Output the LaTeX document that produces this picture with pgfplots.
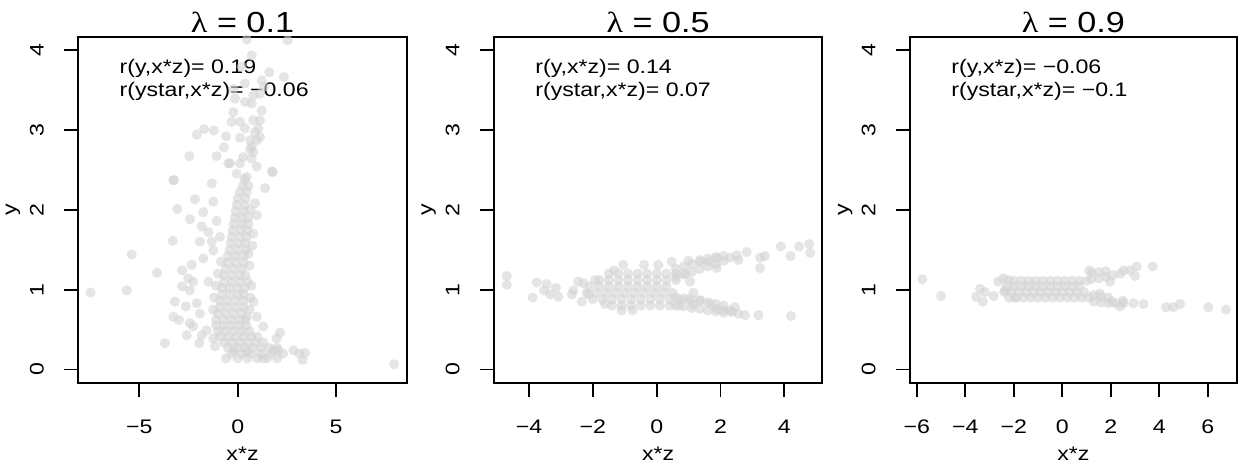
\documentclass[border=0pt]{standalone}
\usepackage{fontspec}
\setmainfont{Liberation Sans}[FakeStretch=1.18]
\newfontfamily\lamfont{Liberation Serif}[FakeStretch=1.18]
\usepackage{pgfplots}
\pgfplotsset{compat=1.18}
\definecolor{ptgray}{HTML}{D3D3D3}

\pgfplotsset{
  rpanel/.style={
    scale only axis, height=173bp,
    ymin=-0.165, ymax=4.165,
    ytick={0,1,2,3,4}, yticklabels={0,1,2,3,4},
    axis line style={line width=0.9bp},
    tick align=outside, major tick length=7bp,
    every tick/.style={black, line width=0.9bp},
    tick pos=left,
    every tick label/.append style={font=\fontsize{9.8bp}{12bp}\selectfont},
    yticklabel style={rotate=90, anchor=base},
    xticklabel style={anchor=base},
    xticklabel shift=18.6bp, yticklabel shift=10.3bp,
    xlabel={x*z}, ylabel={y},
    label style={font=\fontsize{9.8bp}{12bp}\selectfont},
    xlabel style={at={(axis description cs:0.5,0)}, anchor=base, yshift=-38.65bp},
    ylabel style={at={(axis description cs:-0.189,0.5)}, anchor=base},
    every axis title/.style={at={(axis description cs:0.5,1)}, anchor=base,
      yshift=2.35bp, font=\fontsize{14.5bp}{17bp}\selectfont},
    axis on top,
  },
}
\tikzset{
  note/.style={anchor=base west, inner sep=0pt, font=\fontsize{9.8bp}{12bp}\selectfont},
}

\begin{document}
\begin{tikzpicture}
\useasboundingbox (0,0) rectangle (620.5bp,-232bp);

% lambda = 0.1
\begin{axis}[rpanel, at={(39.15bp,-191.35bp)}, anchor=south west, width=164.2bp,
  xmin=-8.10, xmax=8.59, xtick={-5,0,5}, xticklabels={−5,0,5},
  title={{\lamfont λ} = 0.1}]
\addplot[only marks, mark=*, mark size=2.55bp, mark options={draw=ptgray, draw opacity=0, fill=ptgray, fill opacity=0.6}] coordinates {
(-7.48,0.965) (-5.64,0.99) (-5.39,1.44) (-4.10,1.21) (-3.70,0.33) (7.95,0.065)
(-3.24,2.37) (-2.46,2.67) (-2.08,2.94) (-1.71,3.01) (-1.21,2.99) (-1.07,2.67)
(-0.70,2.78) (-0.59,2.92) (-3.07,2.01) (-3.30,1.61) (-2.17,2.13) (-2.43,1.88)
(-1.83,1.79) (-2.82,1.24) (-2.51,1.14) (-2.26,1.10) (-3.19,0.85) (-2.63,0.79)
(-3.27,0.66) (-2.98,0.62) (-2.59,0.43) (-1.95,0.33) (-2.26,0.54) (-1.58,0.49)
(-1.24,0.39) (-0.59,0.14) (-0.22,0.24) (1.30,0.14) (2.15,0.46) (1.81,0.24)
(2.83,0.24) (3.13,0.20) (3.42,0.21) (3.30,0.12) (2.07,0.24) (1.98,0.39)
(1.30,0.54) (0.97,0.66) (0.46,0.66) (0.46,0.22) (-1.15,0.29) (-1.83,0.43)
(-2.43,0.58) (-1.92,0.70) (-2.08,0.83) (-2.43,0.99) (-2.82,1.04) (-3.27,2.37)
(-1.32,2.33) (-0.48,2.58) (-1.24,2.10) (-1.75,1.97) (-1.07,1.86) (-1.49,1.72)
(-1.92,1.60) (-1.32,1.60) (-0.90,1.66) (-2.34,1.31) (-1.75,1.39) (-1.24,1.49)
(-1.49,1.10) (1.39,2.27) (1.78,2.47) (0.88,2.08) (0.79,1.70) (0.97,1.93)
(0.46,4.13) (2.54,4.12) (0.71,3.93) (0.20,3.79) (1.61,3.72) (2.35,3.66)
(1.22,3.62) (1.34,3.54) (0.37,3.58) (-0.22,3.51) (-0.14,3.39) (0.79,3.43)
(1.13,3.45) (0.37,3.35) (0.71,3.33) (-0.22,3.22) (1.22,3.24) (-0.31,3.10)
(0.12,3.10) (0.79,3.12) (1.13,3.12) (1.05,3.02) (0.37,3.02) (0.88,2.97)
(1.13,2.91) (0.63,2.76) (0.79,2.72) (0.71,2.64) (0.12,2.58) (0.97,2.54)
(-0.39,2.58) (0.28,2.66) (1.74,2.48) (-0.05,2.45) (0.46,2.41) (0.12,2.90)
(0.63,2.87) (0.97,2.87) (0.71,2.79)
(0.0,0.14) (0.5,0.14) (1.0,0.14) (1.5,0.14) (2.0,0.14)
(-0.3,0.20) (0.2,0.20) (0.7,0.20) (1.2,0.20) (1.7,0.20) (2.3,0.20)
(-0.5,0.27) (0.0,0.27) (0.4,0.27) (0.8,0.27) (1.2,0.27) (1.6,0.27) (2.0,0.27)
(-0.7,0.34) (-0.3,0.34) (0.1,0.34) (0.5,0.34) (0.9,0.34) (1.3,0.34)
(-0.9,0.41) (-0.5,0.41) (-0.1,0.41) (0.3,0.41) (0.7,0.41) (1.0,0.41)
(-1.0,0.48) (-0.6,0.48) (-0.2,0.48) (0.2,0.48) (0.6,0.48)
(-1.1,0.55) (-0.7,0.55) (-0.3,0.55) (0.1,0.55) (0.45,0.55)
(-1.1,0.62) (-0.7,0.62) (-0.3,0.62) (0.1,0.62) (0.4,0.62)
(-1.0,0.70) (-0.6,0.70) (-0.2,0.70) (0.2,0.70)
(-0.9,0.78) (-0.5,0.78) (-0.1,0.78) (0.3,0.78)
(-0.9,0.86) (-0.5,0.86) (-0.1,0.86) (0.3,0.86)
(-0.8,0.94) (-0.4,0.94) (0.0,0.94) (0.3,0.94)
(-0.8,1.02) (-0.4,1.02) (0.0,1.02) (0.35,1.02)
(-0.7,1.10) (-0.3,1.10) (0.1,1.10)
(-0.7,1.18) (-0.3,1.18) (0.1,1.18) (0.4,1.18)
(-0.6,1.26) (-0.2,1.26) (0.2,1.26)
(-0.5,1.34) (-0.1,1.34) (0.3,1.34)
(-0.5,1.42) (-0.1,1.42) (0.3,1.42)
(-0.4,1.50) (0.0,1.50) (0.4,1.50)
(-0.35,1.58) (0.05,1.58) (0.4,1.58)
(-0.3,1.66) (0.1,1.66) (0.45,1.66)
(-0.25,1.74) (0.15,1.74) (0.5,1.74)
(-0.2,1.82) (0.2,1.82) (0.55,1.82)
(-0.15,1.90) (0.2,1.90) (0.55,1.90)
(-0.1,1.98) (0.3,1.98) (-0.05,2.06) (0.35,2.06) (0.0,2.14) (0.4,2.14)
(0.1,2.22) (0.45,2.22) (0.25,2.30) (0.55,2.30) (0.35,2.38)
(0.7,1.05) (0.8,0.85) (0.6,1.30) (0.75,1.55) (0.65,2.00)
(-1.25,0.75) (-1.2,0.90) (-1.1,1.05) (-1.0,1.20) (0.6,0.75) (0.65,0.90)
(0.5,1.10) (-0.85,1.35) (0.55,1.45)
};
\node[note, xshift=20.5bp, yshift=-18.3bp] at (rel axis cs:0,1) {r(y,x*z)= 0.19};
\node[note, xshift=20.5bp, yshift=-30bp] at (rel axis cs:0,1) {r(ystar,x*z)= −0.06};
\end{axis}

% lambda = 0.5
\begin{axis}[rpanel, at={(247bp,-191.35bp)}, anchor=south west, width=164.15bp,
  xmin=-5.10, xmax=5.19, xtick={-4,-2,0,2,4}, xticklabels={−4,−2,0,2,4},
  title={{\lamfont λ} = 0.5}]
\addplot[only marks, mark=*, mark size=2.55bp, mark options={draw=ptgray, draw opacity=0, fill=ptgray, fill opacity=0.6}] coordinates {
(-4.70,1.17) (-4.70,1.06) (-3.89,0.90) (-3.76,1.09) (-3.45,1.07) (-3.53,0.99)
(-3.34,0.94) (-3.16,1.02) (-3.08,0.91) (-2.66,0.94) (-2.46,1.10) (-2.35,0.85)
(-2.30,1.08) (-2.61,0.99) (-2.14,0.94) (-1.93,1.12) (-1.05,1.31) (-1.34,1.24)
(-1.10,0.74) (-0.76,0.74) (-1.62,0.82) (-0.40,1.31) (0.05,1.31) (0.47,1.35)
(0.99,1.36) (1.36,1.37) (1.62,1.35) (1.88,1.39) (2.09,1.42) (2.51,1.43)
(2.56,1.37) (2.82,1.47) (1.88,1.27) (3.24,1.40) (3.39,1.42) (3.24,1.27)
(3.89,1.54) (4.20,1.42) (4.46,1.54) (4.78,1.57) (4.81,1.46) (1.15,0.96)
(1.36,0.87) (1.67,0.83) (1.88,0.76) (2.09,0.74) (2.30,0.74) (2.45,0.78)
(2.56,0.70) (2.77,0.68) (3.19,0.68) (4.21,0.67) (1.04,1.10) (1.15,0.81)
(-1.4,0.80) (-1.1,0.80) (-0.8,0.80) (-0.5,0.80) (-0.2,0.80) (0.1,0.80) (0.4,0.80) (0.7,0.80)
(-2.0,0.88) (-1.7,0.88) (-1.4,0.88) (-1.1,0.88) (-0.8,0.88) (-0.5,0.88) (-0.2,0.88) (0.1,0.88) (0.4,0.88) (0.7,0.88) (1.0,0.88)
(-2.2,0.96) (-1.9,0.96) (-1.6,0.96) (-1.3,0.96) (-1.0,0.96) (-0.7,0.96) (-0.4,0.96) (-0.1,0.96) (0.2,0.96) (0.5,0.96)
(-2.1,1.04) (-1.8,1.04) (-1.5,1.04) (-1.2,1.04) (-0.9,1.04) (-0.6,1.04) (-0.3,1.04) (0.0,1.04) (0.3,1.04)
(-1.8,1.12) (-1.5,1.12) (-1.2,1.12) (-0.9,1.12) (-0.6,1.12) (-0.3,1.12) (0.0,1.12) (0.3,1.12) (0.6,1.12)
(-1.5,1.20) (-1.2,1.20) (-0.9,1.20) (-0.6,1.20) (-0.3,1.20) (0.0,1.20) (0.3,1.20) (0.6,1.20) (0.9,1.20)
(0.6,1.16) (0.6,1.26) (0.85,1.19) (0.85,1.29) (1.1,1.22) (1.1,1.32) (1.35,1.26) (1.35,1.35)
(1.6,1.29) (1.6,1.39) (1.85,1.32) (1.85,1.41) (2.1,1.36) (2.3,1.40)
(0.6,0.80) (0.6,0.90) (0.85,0.79) (0.85,0.89) (1.1,0.77) (1.1,0.87) (1.35,0.76) (1.35,0.86)
(1.6,0.74) (1.6,0.84) (1.85,0.73) (1.85,0.82) (2.1,0.71) (2.1,0.80) (2.35,0.72)
};
\node[note, xshift=20.5bp, yshift=-18.3bp] at (rel axis cs:0,1) {r(y,x*z)= 0.14};
\node[note, xshift=20.5bp, yshift=-30bp] at (rel axis cs:0,1) {r(ystar,x*z)= 0.07};
\end{axis}

% lambda = 0.9
\begin{axis}[rpanel, at={(455bp,-191.35bp)}, anchor=south west, width=163.35bp,
  xmin=-6.28, xmax=7.19, xtick={-6,-4,-2,0,2,4,6}, xticklabels={−6,−4,−2,0,2,4,6},
  title={{\lamfont λ} = 0.9}]
\addplot[only marks, mark=*, mark size=2.55bp, mark options={draw=ptgray, draw opacity=0, fill=ptgray, fill opacity=0.6}] coordinates {
(-5.77,1.13) (-5.00,0.92) (-3.56,0.91) (-3.39,1.01) (-3.28,0.85) (-3.19,0.97)
(-2.84,0.92) (-2.64,1.10) (-2.43,1.14) (-2.23,1.12) (-2.36,0.99) (-1.95,0.90)
(3.07,1.29) (3.73,1.29) (3.00,1.17) (2.79,1.24) (2.52,1.24) (1.11,1.24)
(3.34,0.82) (2.93,0.83) (2.52,0.83) (2.38,0.79) (2.04,0.85) (4.28,0.78)
(4.58,0.78) (4.85,0.82) (6.02,0.78) (6.75,0.75) (1.55,0.95) (1.97,1.10)
(-2.2,0.90) (-1.9,0.90) (-1.6,0.90) (-1.3,0.90) (-1.0,0.90) (-0.7,0.90) (-0.4,0.90) (-0.1,0.90) (0.2,0.90) (0.5,0.90) (0.8,0.90) (1.1,0.90)
(-2.4,0.97) (-2.1,0.97) (-1.8,0.97) (-1.5,0.97) (-1.2,0.97) (-0.9,0.97) (-0.6,0.97) (-0.3,0.97) (0.0,0.97) (0.3,0.97) (0.6,0.97) (0.9,0.97)
(-2.3,1.04) (-2.0,1.04) (-1.7,1.04) (-1.4,1.04) (-1.1,1.04) (-0.8,1.04) (-0.5,1.04) (-0.2,1.04) (0.1,1.04) (0.4,1.04) (0.7,1.04)
(-2.0,1.11) (-1.7,1.11) (-1.4,1.11) (-1.1,1.11) (-0.8,1.11) (-0.5,1.11) (-0.2,1.11) (0.1,1.11) (0.4,1.11) (0.7,1.11) (1.0,1.11)
(1.2,1.13) (1.2,1.21) (1.5,1.14) (1.5,1.22) (1.8,1.16) (1.8,1.23) (2.1,1.18) (2.4,1.20)
(1.3,0.85) (1.3,0.93) (1.6,0.84) (1.6,0.91) (1.9,0.83) (1.9,0.90) (2.2,0.83) (2.5,0.86)
};
\node[note, xshift=20.5bp, yshift=-18.3bp] at (rel axis cs:0,1) {r(y,x*z)= −0.06};
\node[note, xshift=20.5bp, yshift=-30bp] at (rel axis cs:0,1) {r(ystar,x*z)= −0.1};
\end{axis}
\end{tikzpicture}
\end{document}
